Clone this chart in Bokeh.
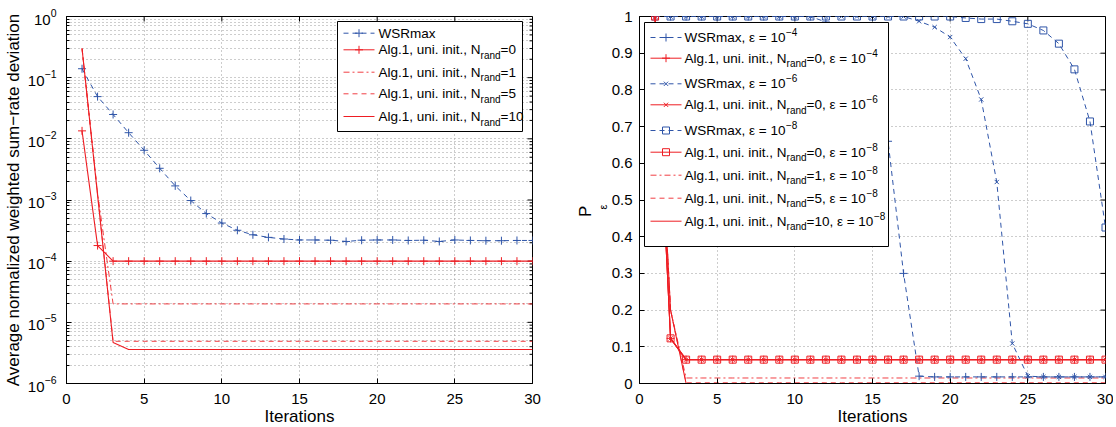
import math
from bokeh.plotting import figure
from bokeh.models import (Range1d, LinearScale, FixedTicker, Title)
from bokeh.layouts import row
from bokeh.embed import file_html
from bokeh.resources import INLINE
from bokeh.core.properties import value

FONT = "Liberation Sans"
BLUE = "#2f55a8"
RED = "#ee1d23"

# ---------------- data ----------------
iters = [1, 2, 3, 4, 5, 6, 7, 8, 9, 10, 11, 12, 13, 14, 15,
         16, 17, 18, 19, 20, 21, 22, 23, 24, 25, 26, 27, 28, 29, 30]

# left panel: average normalized weighted sum-rate deviation
left_wsrmax = [0.14, 0.049, 0.025, 0.0126, 0.0065, 0.0033, 0.0017, 0.00098, 0.0006, 0.00042,
               0.00032, 0.00027, 0.000245, 0.00023, 0.000222, 0.000222, 0.00022, 0.00021, 0.00022, 0.000222,
               0.000222, 0.000218, 0.00022, 0.00021, 0.000222, 0.000218, 0.000216, 0.000216, 0.000218, 0.000218]
left_alg_n0 = [0.0135, 0.00018, 0.0001, 0.0001, 0.0001, 0.0001, 0.0001, 0.0001, 0.0001, 0.0001,
               0.0001, 0.0001, 0.0001, 0.0001, 0.0001, 0.0001, 0.0001, 0.0001, 0.0001, 0.0001,
               0.0001, 0.0001, 0.0001, 0.0001, 0.0001, 0.0001, 0.0001, 0.0001, 0.0001, 0.0001]
left_alg_n1 = [0.3, 0.0013, 2.0e-5, 2.0e-5, 2.0e-5, 2.0e-5, 2.0e-5, 2.0e-5, 2.0e-5, 2.0e-5,
               2.0e-5, 2.0e-5, 2.0e-5, 2.0e-5, 2.0e-5, 2.0e-5, 2.0e-5, 2.0e-5, 2.0e-5, 2.0e-5,
               2.0e-5, 2.0e-5, 2.0e-5, 2.0e-5, 2.0e-5, 2.0e-5, 2.0e-5, 2.0e-5, 2.0e-5, 2.0e-5]
left_alg_n5 = [0.3, 0.00125, 4.9e-6, 4.9e-6, 4.9e-6, 4.9e-6, 4.9e-6, 4.9e-6, 4.9e-6, 4.9e-6,
               4.9e-6, 4.9e-6, 4.9e-6, 4.9e-6, 4.9e-6, 4.9e-6, 4.9e-6, 4.9e-6, 4.9e-6, 4.9e-6,
               4.9e-6, 4.9e-6, 4.9e-6, 4.9e-6, 4.9e-6, 4.9e-6, 4.9e-6, 4.9e-6, 4.9e-6, 4.9e-6]
left_alg_n10 = [0.3, 0.0012, 4.7e-6, 3.6e-6, 3.6e-6, 3.6e-6, 3.6e-6, 3.6e-6, 3.6e-6, 3.6e-6,
                3.6e-6, 3.6e-6, 3.6e-6, 3.6e-6, 3.6e-6, 3.6e-6, 3.6e-6, 3.6e-6, 3.6e-6, 3.6e-6,
                3.6e-6, 3.6e-6, 3.6e-6, 3.6e-6, 3.6e-6, 3.6e-6, 3.6e-6, 3.6e-6, 3.6e-6, 3.6e-6]

# right panel: P_epsilon
right_wsr_e4 = [1, 1, 1, 1, 1, 1, 1, 1, 1, 1,
                1, 0.985, 0.96, 0.92, 0.83, 0.66, 0.30, 0.02, 0.018, 0.018,
                0.018, 0.018, 0.018, 0.018, 0.018, 0.018, 0.018, 0.018, 0.018, 0.018]
right_wsr_e6 = [1, 1, 1, 1, 1, 1, 1, 1, 1, 1,
                1, 1, 1, 1, 1, 1, 1, 0.987, 0.971, 0.944,
                0.885, 0.774, 0.549, 0.109, 0.02, 0.018, 0.018, 0.018, 0.018, 0.018]
right_wsr_e8 = [1, 1, 1, 1, 1, 1, 1, 1, 1, 1,
                1, 1, 1, 1, 1, 1, 1, 1, 1, 1,
                0.996, 0.993, 0.993, 0.987, 0.98, 0.962, 0.926, 0.856, 0.714, 0.425]
right_alg_n0_e4 = [1, 0.123, 0.065, 0.065, 0.065, 0.065, 0.065, 0.065, 0.065, 0.065,
                   0.065, 0.065, 0.065, 0.065, 0.065, 0.065, 0.065, 0.065, 0.065, 0.065,
                   0.065, 0.065, 0.065, 0.065, 0.065, 0.065, 0.065, 0.065, 0.065, 0.065]
right_alg_n0_e6 = [1, 0.123, 0.065, 0.065, 0.065, 0.065, 0.065, 0.065, 0.065, 0.065,
                   0.065, 0.065, 0.065, 0.065, 0.065, 0.065, 0.065, 0.065, 0.065, 0.065,
                   0.065, 0.065, 0.065, 0.065, 0.065, 0.065, 0.065, 0.065, 0.065, 0.065]
right_alg_n0_e8 = [1, 0.123, 0.065, 0.065, 0.065, 0.065, 0.065, 0.065, 0.065, 0.065,
                   0.065, 0.065, 0.065, 0.065, 0.065, 0.065, 0.065, 0.065, 0.065, 0.065,
                   0.065, 0.065, 0.065, 0.065, 0.065, 0.065, 0.065, 0.065, 0.065, 0.065]
right_alg_n1_e8 = [1, 0.2, 0.015, 0.015, 0.015, 0.015, 0.015, 0.015, 0.015, 0.015,
                   0.015, 0.015, 0.015, 0.015, 0.015, 0.015, 0.015, 0.015, 0.015, 0.015,
                   0.015, 0.015, 0.015, 0.015, 0.015, 0.015, 0.015, 0.015, 0.015, 0.015]
right_alg_n5_e8 = [1, 0.2, 0.002, 0.002, 0.002, 0.002, 0.002, 0.002, 0.002, 0.002,
                   0.002, 0.002, 0.002, 0.002, 0.002, 0.002, 0.002, 0.002, 0.002, 0.002,
                   0.002, 0.002, 0.002, 0.002, 0.002, 0.002, 0.002, 0.002, 0.002, 0.002]
right_alg_n10_e8 = [1, 0.2, 0, 0, 0, 0, 0, 0, 0, 0,
                    0, 0, 0, 0, 0, 0, 0, 0, 0, 0,
                    0, 0, 0, 0, 0, 0, 0, 0, 0, 0]

x_ticks = [0, 5, 10, 15, 20, 25, 30]
log_ticks = [1e-6, 1e-5, 1e-4, 1e-3, 1e-2, 1e-1, 1]
p_ticks = [0, 0.1, 0.2, 0.3, 0.4, 0.5, 0.6, 0.7, 0.8, 0.9, 1]
p_tick_labels = ["0", "0.1", "0.2", "0.3", "0.4", "0.5", "0.6", "0.7", "0.8", "0.9", "1"]

# ---------------- layout constants ----------------
FW, FH = 466, 367
TICK_FS = "15px"
LABEL_FS = "17px"
LEG_FS = 13.5
SUB_FS = 10.0
DASH = "5 4"
DASHDOT = "6 3 2 3"
GRID_COLOR = "#9a9a9a"
GRID_DASH = "1 3"

AW = {' ': 0.278, ',': 0.278, '.': 0.278, '=': 0.584, '\u2212': 0.584, '-': 0.333,
      '\u03b5': 0.45, 'A': 0.667, 'N': 0.722, 'R': 0.722, 'S': 0.667, 'W': 0.944,
      'a': 0.556, 'd': 0.556, 'e': 0.556, 'g': 0.556, 'i': 0.222, 'l': 0.222,
      'm': 0.833, 'n': 0.556, 'r': 0.333, 't': 0.278, 'u': 0.556, 'x': 0.5}


def tw(s, fs):
    return sum(AW.get(c, 0.556) for c in s) * fs


def style_axis(ax, minor=False):
    ax.axis_line_color = "black"
    ax.major_tick_line_color = "black"
    ax.major_tick_in = 5
    ax.major_tick_out = 0
    if minor:
        ax.minor_tick_line_color = "black"
        ax.minor_tick_in = 3
        ax.minor_tick_out = 0
    else:
        ax.minor_tick_line_color = None
    ax.major_label_text_font = FONT
    ax.major_label_text_color = "black"
    ax.major_label_text_font_size = TICK_FS
    ax.axis_label_text_font = FONT
    ax.axis_label_text_font_style = "normal"
    ax.axis_label_text_font_size = LABEL_FS
    ax.axis_label_text_color = "black"


def make_fig(border_left, border_right, y_log):
    kw = dict(frame_width=FW, frame_height=FH, min_border_left=border_left,
              min_border_right=border_right, min_border_top=16,
              min_border_bottom=36, output_backend="svg", toolbar_location=None,
              x_range=Range1d(0, 30))
    if y_log:
        kw.update(y_axis_type="log", y_range=Range1d(1e-6, 1))
    else:
        kw.update(y_range=Range1d(0, 1))
    p = figure(**kw)
    p.extra_x_ranges = {"leg": Range1d(0, FW)}
    p.extra_y_ranges = {"leg": Range1d(FH, 0)}
    p.extra_y_scales = {"leg": LinearScale()}
    p.outline_line_color = "black"
    p.outline_line_width = 1
    p.background_fill_color = "white"
    p.border_fill_color = "white"
    p.xaxis.ticker = FixedTicker(ticks=x_ticks)
    p.xaxis.axis_label = "Iterations"
    p.xaxis.major_label_standoff = 10
    p.xaxis.axis_label_standoff = 0
    for g in p.grid:
        g.grid_line_color = GRID_COLOR
        g.grid_line_dash = GRID_DASH
        g.grid_line_width = 1
    return p


def frame_ticks(p, ypix_major, ypix_minor):
    # inward tick marks on the top and right edges of the box (pixel coords of the frame)
    xs = [t / 30.0 * FW for t in x_ticks]
    p.segment(x0=xs, y0=[0] * len(xs), x1=xs, y1=[5] * len(xs), line_color="black",
              line_width=1, x_range_name="leg", y_range_name="leg")
    p.segment(x0=[FW] * len(ypix_major), y0=ypix_major, x1=[FW - 5] * len(ypix_major),
              y1=ypix_major, line_color="black", line_width=1,
              x_range_name="leg", y_range_name="leg")
    if ypix_minor:
        p.segment(x0=[FW] * len(ypix_minor), y0=ypix_minor, x1=[FW - 3] * len(ypix_minor),
                  y1=ypix_minor, line_color="black", line_width=1,
                  x_range_name="leg", y_range_name="leg")


def draw_legend(p, box, lx0, lx1, tx, rows):
    p.quad(left=[box[0]], right=[box[2]], top=[box[1]], bottom=[box[3]],
           fill_color="white", line_color="black", line_width=1,
           x_range_name="leg", y_range_name="leg")
    mains = dict(x=[], y=[], t=[])
    subs = dict(x=[], y=[], t=[])
    sups = dict(x=[], y=[], t=[])
    for r in rows:
        y = r["y"]
        p.line([lx0, lx1], [y, y], line_color=r["color"], line_width=r.get("lw", 1),
               line_dash=r["dash"], line_alpha=r.get("alpha", 1),
               x_range_name="leg", y_range_name="leg")
        for mk, sz in r.get("markers", []):
            p.scatter([(lx0 + lx1) / 2], [y], marker=mk, size=sz, line_color=r["color"],
                      fill_color=None, line_width=1, x_range_name="leg", y_range_name="leg")
        x = tx
        for txt, kind in r["parts"]:
            if kind == "m":
                mains["x"].append(x); mains["y"].append(y); mains["t"].append(txt)
                x += tw(txt, LEG_FS)
            elif kind == "sub":
                subs["x"].append(x); subs["y"].append(y + 5.5); subs["t"].append(txt)
                x += tw(txt, SUB_FS)
            else:
                sups["x"].append(x + 0.5); sups["y"].append(y - 5.5); sups["t"].append(txt)
                x += tw(txt, SUB_FS) + 0.5
    for d, fs in ((mains, LEG_FS), (subs, SUB_FS), (sups, SUB_FS)):
        if not d["x"]:
            continue
        p.text(x=d["x"], y=d["y"], text=d["t"], text_font=value(FONT),
               text_font_size=value("%.1fpx" % fs), text_baseline="middle",
               text_align="left", text_color="black",
               x_range_name="leg", y_range_name="leg")


# ================= left panel =================
p1 = make_fig(60, 41, True)
log_minor = [m * 10.0 ** e for e in range(-6, 0) for m in range(2, 10)]
lticker = FixedTicker(ticks=log_ticks, minor_ticks=log_minor)
p1.yaxis.ticker = lticker
p1.yaxis.axis_label = "Average normalized weighted sum\u2212rate deviation"
p1.yaxis.major_label_standoff = 10
p1.yaxis.axis_label_standoff = 2
for ax in p1.xaxis:
    style_axis(ax)
for ax in p1.yaxis:
    style_axis(ax, minor=True)
p1.ygrid.minor_grid_line_color = GRID_COLOR
p1.ygrid.minor_grid_line_dash = GRID_DASH


def logpix(v):
    return FH * (-math.log10(v)) / 6.0


frame_ticks(p1, [logpix(v) for v in log_ticks], [logpix(v) for v in log_minor])

p1.line(iters, left_wsrmax, line_color=BLUE, line_dash=DASH, line_width=1)
p1.scatter(iters, left_wsrmax, marker="cross", size=8, line_color=BLUE, line_width=1)
p1.line(iters, left_alg_n1, line_color=RED, line_dash=DASHDOT, line_width=1, line_alpha=0.85)
p1.line(iters, left_alg_n5, line_color=RED, line_dash=DASH, line_width=1, line_alpha=0.85)
p1.line(iters, left_alg_n10, line_color=RED, line_width=1.1)
p1.line(iters, left_alg_n0, line_color=RED, line_width=1.1)
p1.scatter(iters, left_alg_n0, marker="cross", size=8, line_color=RED, line_width=1)

algtxt = "Alg.1, uni. init., N"
draw_legend(p1, (271, 5, 456, 115), 277, 308, 312, [
    dict(y=16.7, color=BLUE, dash=DASH, markers=[("cross", 8)], parts=[("WSRmax", "m")]),
    dict(y=33.3, color=RED, dash="solid", markers=[("cross", 8)],
         parts=[(algtxt, "m"), ("rand", "sub"), ("=0", "m")]),
    dict(y=55.7, color=RED, dash=DASHDOT, alpha=0.85,
         parts=[(algtxt, "m"), ("rand", "sub"), ("=1", "m")]),
    dict(y=77.3, color=RED, dash=DASH, alpha=0.85,
         parts=[(algtxt, "m"), ("rand", "sub"), ("=5", "m")]),
    dict(y=100, color=RED, dash="solid",
         parts=[(algtxt, "m"), ("rand", "sub"), ("=10", "m")]),
])

# ================= right panel =================
p2 = make_fig(60, 8, False)
pticker = FixedTicker(ticks=p_ticks)
p2.yaxis.ticker = pticker
p2.yaxis.major_label_overrides = {t: s for t, s in zip(p_ticks, p_tick_labels)}
p2.yaxis.major_label_standoff = 7
for ax in p2.xaxis:
    style_axis(ax)
for ax in p2.yaxis:
    style_axis(ax)
frame_ticks(p2, [FH * (1 - t) for t in p_ticks], [])

p2.line(iters, right_alg_n1_e8, line_color=RED, line_dash=DASHDOT, line_width=1, line_alpha=0.85)
p2.line(iters, right_alg_n5_e8, line_color=RED, line_dash=DASH, line_width=1, line_alpha=0.85)
p2.line(iters, right_alg_n10_e8, line_color=RED, line_width=1.1)
for ser, mk, sz in ((right_wsr_e4, "cross", 8), (right_wsr_e6, "x", 6), (right_wsr_e8, "square", 7)):
    p2.line(iters, ser, line_color=BLUE, line_dash=DASH, line_width=1)
    p2.scatter(iters, ser, marker=mk, size=sz, line_color=BLUE, fill_color=None, line_width=1)
for ser, mk, sz in ((right_alg_n0_e4, "cross", 8), (right_alg_n0_e6, "x", 6), (right_alg_n0_e8, "square", 7)):
    p2.line(iters, ser, line_color=RED, line_width=1.1)
    p2.scatter(iters, ser, marker=mk, size=sz, line_color=RED, fill_color=None, line_width=1)

e4 = [("\u2212" + "4", "sup")]
e6 = [("\u2212" + "6", "sup")]
e8 = [("\u2212" + "8", "sup")]
eps = ", \u03b5 = 10"
draw_legend(p2, (5, 6, 249, 230), 11, 42, 45, [
    dict(y=21, color=BLUE, dash=DASH, markers=[("cross", 8)], parts=[("WSRmax" + eps, "m")] + e4),
    dict(y=41.7, color=RED, dash="solid", markers=[("cross", 8)],
         parts=[(algtxt, "m"), ("rand", "sub"), ("=0" + eps, "m")] + e4),
    dict(y=67.3, color=BLUE, dash=DASH, markers=[("x", 6)], parts=[("WSRmax" + eps, "m")] + e6),
    dict(y=88.3, color=RED, dash="solid", markers=[("x", 6)],
         parts=[(algtxt, "m"), ("rand", "sub"), ("=0" + eps, "m")] + e6),
    dict(y=114, color=BLUE, dash=DASH, markers=[("square", 7)], parts=[("WSRmax" + eps, "m")] + e8),
    dict(y=135.7, color=RED, dash="solid", markers=[("square", 7)],
         parts=[(algtxt, "m"), ("rand", "sub"), ("=0" + eps, "m")] + e8),
    dict(y=158.7, color=RED, dash=DASHDOT, alpha=0.85,
         parts=[(algtxt, "m"), ("rand", "sub"), ("=1" + eps, "m")] + e8),
    dict(y=181.7, color=RED, dash=DASH, alpha=0.85,
         parts=[(algtxt, "m"), ("rand", "sub"), ("=5" + eps, "m")] + e8),
    dict(y=204.7, color=RED, dash="solid",
         parts=[(algtxt, "m"), ("rand", "sub"), ("=10" + eps, "m")] + e8),
])

# y-axis label P_epsilon built from two side titles (subscript epsilon nearer the axis)
p2.add_layout(Title(text="\u03b5", align="left", offset=174, standoff=0,
                    text_font=FONT, text_font_size="11px", text_font_style="normal",
                    text_color="black"), "left")
p2.add_layout(Title(text="P", align="left", offset=166.5, standoff=0,
                    text_font=FONT, text_font_size=LABEL_FS, text_font_style="normal",
                    text_color="black"), "left")

layout = row(p1, p2)
open("out.html", "w").write(file_html(layout, INLINE))
